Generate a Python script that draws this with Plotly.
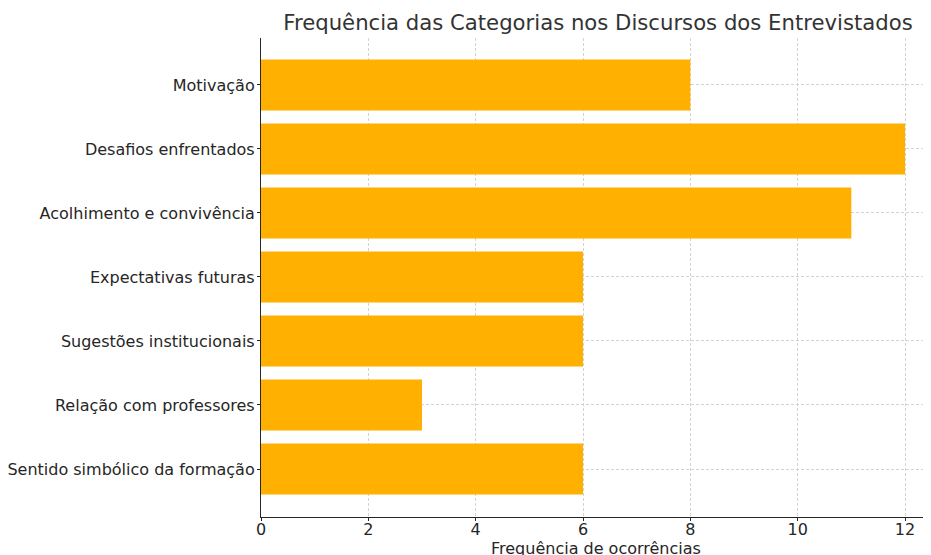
import plotly.graph_objects as go

categories = [
    "Motivação",
    "Desafios enfrentados",
    "Acolhimento e convivência",
    "Expectativas futuras",
    "Sugestões institucionais",
    "Relação com professores",
    "Sentido simbólico da formação",
]
values = [8, 12, 11, 6, 6, 3, 6]
x_ticks = [0, 2, 4, 6, 8, 10, 12]

TEXT = "#262626"
FONT = "DejaVu Sans"

W, H = 923, 547  # page body adds an 8px offset; keep the figure inside the window
PLOT_TOP, PLOT_BOTTOM = 30, 38

fig = go.Figure(
    go.Bar(
        x=values,
        y=categories,
        orientation="h",
        width=0.8,
        marker=dict(color="#FFB000", line=dict(width=0)),
    )
)

plot_h = H - PLOT_TOP - PLOT_BOTTOM

fig.update_layout(
    width=W,
    height=H,
    margin=dict(l=253, r=0, t=PLOT_TOP, b=PLOT_BOTTOM),
    paper_bgcolor="white",
    plot_bgcolor="white",
    showlegend=False,
    font=dict(family=FONT, size=16, color=TEXT),
    title=dict(
        text="Frequência das Categorias nos Discursos dos Entrevistados",
        x=590 / W,
        xanchor="center",
        xref="container",
        y=1 - 15 / H,
        yanchor="middle",
        yref="container",
        font=dict(family=FONT, size=21.2, color="#333333"),
    ),
    annotations=[
        dict(
            text="Frequência de ocorrências",
            xref="paper", yref="paper",
            x=0.5, y=-31 / plot_h,
            xanchor="center", yanchor="middle",
            showarrow=False,
            font=dict(family=FONT, size=16, color=TEXT),
        )
    ],
)

grid = dict(
    showgrid=True,
    gridcolor="#d3d3d3",
    griddash="3px,2px",
    gridwidth=0.8,
    zeroline=False,
    automargin=False,
    ticks="outside",
    ticklen=3,
    tickcolor=TEXT,
    showline=True,
    linecolor=TEXT,
    linewidth=1.2,
    tickfont=dict(family=FONT, size=16, color=TEXT),
)

fig.update_xaxes(
    range=[0, (W - 253) / (644 / 12)],
    tickvals=x_ticks,
    ticktext=[str(v) for v in x_ticks],
    ticklabelstandoff=-5,
    **grid,
)

fig.update_yaxes(
    categoryorder="array",
    categoryarray=categories,
    range=[6.75, -0.734],
    ticklabelstandoff=-1,
    **grid,
)

fig.write_html("out.html")
